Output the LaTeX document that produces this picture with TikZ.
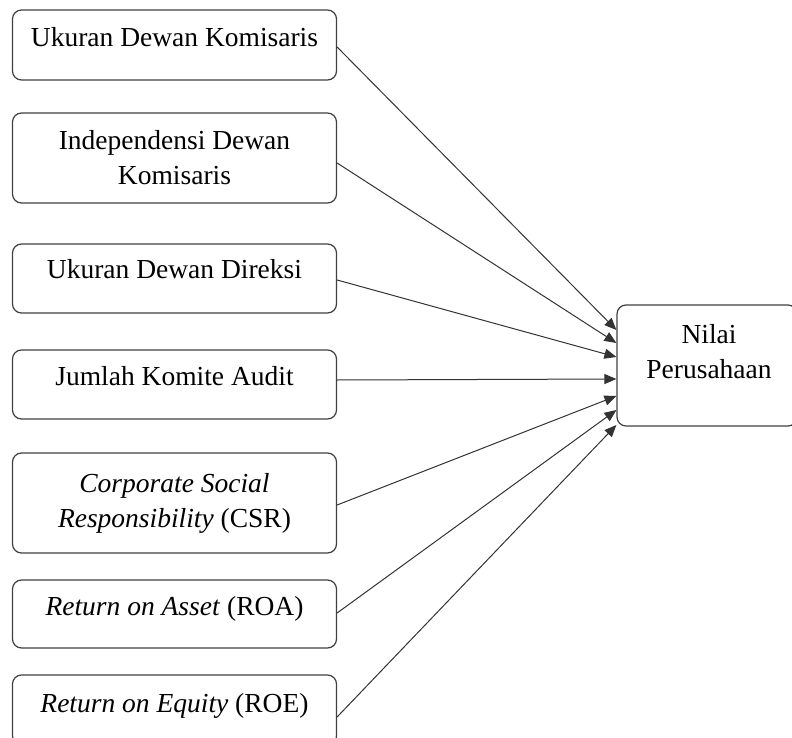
\documentclass[tikz,border=0pt]{standalone}
\usepackage{fontspec}
\setmainfont{Liberation Serif}
\usetikzlibrary{arrows.meta}
\begin{document}
\begin{tikzpicture}[x=1pt,y=-1pt,
  box/.style={draw=black!75,line width=1.2pt,rounded corners=9pt,minimum width=324pt,inner sep=0pt},
  lbl/.style={anchor=base,inner sep=0pt,font=\fontsize{27.5}{35}\selectfont},
  conn/.style={draw=black!80,line width=1pt,-{Triangle[length=12pt,width=10pt]}}]
\useasboundingbox (0,0) rectangle (792,738);
\clip (0,0) rectangle (792,738);
% left boxes
\node[box,minimum height=70pt] (b1) at (174.5,45) {};
\node[box,minimum height=90pt] (b2) at (174.5,158) {};
\node[box,minimum height=69pt] (b3) at (174.5,278.5) {};
\node[box,minimum height=69pt] (b4) at (174.5,384.5) {};
\node[box,minimum height=100pt] (b5) at (174.5,503) {};
\node[box,minimum height=68pt] (b6) at (174.5,614) {};
\node[box,minimum height=70pt] (b7) at (174.5,710) {};
% target box
\node[box,minimum width=180pt,minimum height=121pt] (t) at (707,365.5) {};
% texts
\node[lbl] (b1t) at (174.5,47) {Ukuran Dewan Komisaris};
\node[lbl] (b2t) at (174.5,150) {\begin{tabular}[t]{@{}c@{}}Independensi Dewan\\Komisaris\end{tabular}};
\node[lbl] (b3t) at (174.5,278) {Ukuran Dewan Direksi};
\node[lbl] (b4t) at (174.5,385) {Jumlah Komite Audit};
\node[lbl] (b5t) at (174.5,492) {\begin{tabular}[t]{@{}c@{}}\textit{Corporate Social}\\\textit{Responsibility} (CSR)\end{tabular}};
\node[lbl] (b6t) at (174.5,615) {\textit{Return on Asset} (ROA)};
\node[lbl] (b7t) at (174.5,712) {\textit{Return on Equity} (ROE)};
\node[lbl] (tt) at (709,343) {\begin{tabular}[t]{@{}c@{}}Nilai\\Perusahaan\end{tabular}};
% connectors
\draw[conn] ([yshift=-2pt]b1.east) -- ([yshift=35.5pt]t.west);
\draw[conn] ([yshift=-5pt]b2.east) -- ([yshift=22.5pt]t.west);
\draw[conn] ([yshift=-1.5pt]b3.east) -- ([yshift=8.5pt]t.west);
\draw[conn] ([yshift=4.5pt]b4.east) -- ([yshift=-13.5pt]t.west);
\draw[conn] ([yshift=-2pt]b5.east) -- ([yshift=-30.5pt]t.west);
\draw[conn] ([yshift=1pt]b6.east) -- ([yshift=-44.5pt]t.west);
\draw[conn] ([yshift=-7pt]b7.east) -- ([yshift=-59.5pt]t.west);
\end{tikzpicture}
\end{document}
